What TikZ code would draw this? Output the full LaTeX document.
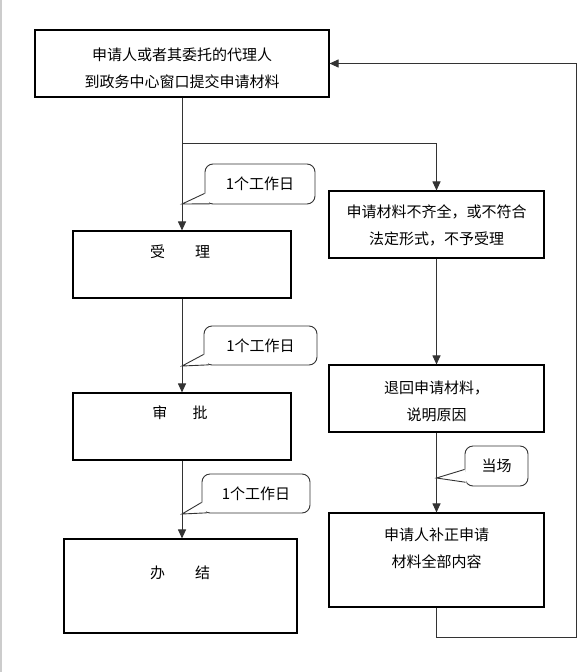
\documentclass[tikz,border=0pt]{standalone}
\usepackage{fontspec}
\setmainfont{Noto Sans CJK SC}
\usetikzlibrary{arrows.meta}

\begin{document}
\begin{tikzpicture}[x=1pt,y=-1pt,
                    box/.style={draw,line width=1.1pt,inner sep=0pt},
                    txt/.style={align=center,inner sep=0pt,font=\fontsize{15}{27}\selectfont},
                    tag/.style={draw=black!80,line width=0.9pt,rounded corners=8pt,inner sep=0pt,
                                font=\fontsize{15}{18}\selectfont},
                    conn/.style={draw=black!80,line width=1pt,-{Triangle[width=8pt,length=9pt]}}]
  \useasboundingbox (0,0) rectangle (586,672);
  \draw[black!20,line width=1.5pt] (1,0) -- (1,672);

  % boxes
  \node[box,minimum width=294pt,minimum height=67pt] (top) at (182,63.5) {};
  \node[box,minimum width=218pt,minimum height=67pt] (accept) at (182,264.5) {};
  \node[box,minimum width=218pt,minimum height=67pt] (approve) at (182,426.5) {};
  \node[box,minimum width=233pt,minimum height=94pt] (finish) at (180.5,586) {};
  \node[box,minimum width=215pt,minimum height=67pt] (reject) at (436.5,224.5) {};
  \node[box,minimum width=215pt,minimum height=67pt] (back) at (436.5,398.5) {};
  \node[box,minimum width=215pt,minimum height=94pt] (supply) at (436.5,560) {};

  % texts
  \node[txt] (toptxt) at (182,68.5) {申请人或者其委托的代理人\\到政务中心窗口提交申请材料};
  \node[txt] (accepttxt) at (180,252) {受\hspace{2em}理};
  \node[txt] (approvetxt) at (180,413) {审\hspace{1.7em}批};
  \node[txt] (finishtxt) at (180,573) {办\hspace{2em}结};
  \node[txt] (rejecttxt) at (436.5,225) {申请材料不齐全，或不符合\\法定形式，不予受理};
  \node[txt] (backtxt) at (436.5,401.5) {退回申请材料，\\说明原因};
  \node[txt] (supplytxt) at (436.5,548.5) {申请人补正申请\\材料全部内容};

  % connectors
  \coordinate (fork) at (182,143);
  \coordinate (loop) at (576,637);
  \draw[conn] (top) -- (accept);
  \draw[conn] (fork) -| (reject.north);
  \draw[conn] (accept) -- (approve);
  \draw[conn] (approve.south) -- (approve.south |- finish.north);
  \draw[conn] (reject) -- (back);
  \draw[conn] (back) -- (supply);
  \draw[conn] (supply.south) |- (loop) |- (top.east);

  % time tags
  \coordinate (tip1) at (182,204);
  \coordinate (tip2) at (182,366);
  \coordinate (tip3) at (182,514);
  \coordinate (tip4) at (436.5,478);
  \node[tag,minimum width=110pt,minimum height=40pt] (tag1) at (260,184) {1个工作日};
  \node[tag,minimum width=113pt,minimum height=39pt] (tag2) at (260.5,345.5) {1个工作日};
  \node[tag,minimum width=108pt,minimum height=39pt] (tag3) at (256,493.5) {1个工作日};
  \node[tag,minimum width=63pt,minimum height=40pt] (tag4) at (496.5,466) {当场};
  \foreach \t/\p in {tag1/tip1,tag2/tip2,tag3/tip3}{
    \fill[white] ([shift={(1,-11)}]\t.south west) -- (\p) -- ([shift={(5,-1)}]\t.south west) -- cycle;
    \draw[black!80,line width=0.9pt] ([shift={(0,-11)}]\t.south west) -- (\p) -- ([shift={(5,-0.6)}]\t.south west);
  }
  \fill[white] ([shift={(1,-17)}]tag4.south west) -- (tip4) -- ([shift={(2,-3)}]tag4.south west) -- cycle;
  \draw[black!80,line width=0.9pt] ([shift={(0,-17)}]tag4.south west) -- (tip4) -- ([shift={(1,-4.2)}]tag4.south west);
\end{tikzpicture}
\end{document}
